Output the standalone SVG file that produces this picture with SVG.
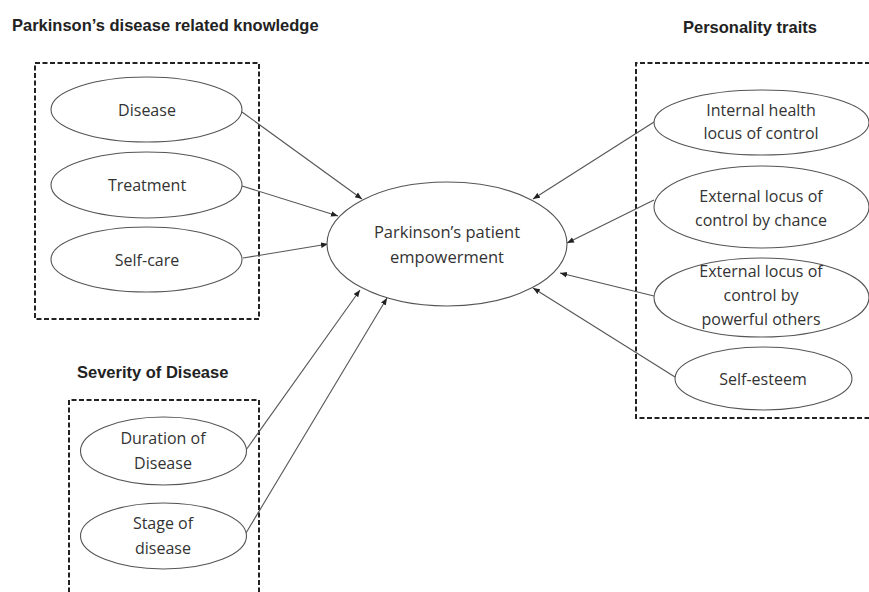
<svg xmlns="http://www.w3.org/2000/svg" width="869" height="592" viewBox="0 0 869 592">
<style>
.title{font-family:"Liberation Sans",Arial,sans-serif;font-weight:bold;font-size:16.5px;fill:#222}
.lbl{font-family:"Open Sans","Liberation Sans",sans-serif;font-size:16px;fill:#333;text-anchor:middle}
.big{font-size:16.5px}
.node ellipse{fill:#fff;stroke:#555;stroke-width:1.1}
.box{fill:none;stroke:#222;stroke-width:2;stroke-dasharray:5 2.5}
.conn line{stroke:#555;stroke-width:1.1;marker-end:url(#ah)}
</style>
<defs>
<marker id="ah" viewBox="0 0 10 10" refX="10" refY="5" markerWidth="7" markerHeight="7" markerUnits="userSpaceOnUse" orient="auto">
<path d="M0,1 L10,5 L0,9 z" fill="#222"/>
</marker>
</defs>
<rect width="869" height="592" fill="#fff"/>
<g id="groups">
<text class="title" x="12" y="31">Parkinson’s disease related knowledge</text>
<rect class="box" x="35" y="63" width="224" height="256"/>
<text class="title" x="683" y="33">Personality traits</text>
<path class="box" d="M870,63 H636 V418 H870"/>
<text class="title" x="77" y="378">Severity of Disease</text>
<path class="box" d="M69,600 V400 H259 V600"/>
</g>
<g class="conn" id="connectors">
<line x1="242" y1="112" x2="362" y2="199"/>
<line x1="242" y1="186" x2="338" y2="216"/>
<line x1="243" y1="258" x2="328" y2="244"/>
<line x1="246" y1="450" x2="360" y2="290"/>
<line x1="246" y1="533" x2="387" y2="298"/>
<line x1="654" y1="122" x2="533" y2="199"/>
<line x1="654" y1="200" x2="567" y2="243"/>
<line x1="654" y1="296" x2="560" y2="273"/>
<line x1="675" y1="377" x2="533" y2="288"/>
</g>
<g class="node" id="n-center"><ellipse cx="447" cy="244" rx="120" ry="62"/><text class="lbl big" x="447" y="237.5">Parkinson’s patient</text><text class="lbl big" x="447" y="262.5">empowerment</text></g>
<g class="node" id="n-disease"><ellipse cx="146.5" cy="109.5" rx="95.5" ry="32.5"/><text class="lbl" x="147" y="115.5">Disease</text></g>
<g class="node" id="n-treatment"><ellipse cx="146.5" cy="185" rx="95.5" ry="33"/><text class="lbl" x="147" y="191">Treatment</text></g>
<g class="node" id="n-selfcare"><ellipse cx="146.5" cy="259.5" rx="95.5" ry="32.5"/><text class="lbl" x="147" y="265.5">Self-care</text></g>
<g class="node" id="n-duration"><ellipse cx="163.5" cy="451" rx="83" ry="34"/><text class="lbl" x="163" y="443.5">Duration of</text><text class="lbl" x="163" y="468.5">Disease</text></g>
<g class="node" id="n-stage"><ellipse cx="163.5" cy="536" rx="83" ry="33"/><text class="lbl" x="163" y="528.5">Stage of</text><text class="lbl" x="163" y="553.5">disease</text></g>
<g class="node" id="n-internal"><ellipse cx="761.5" cy="122.5" rx="107.5" ry="32.5"/><text class="lbl" x="761" y="115.5">Internal health</text><text class="lbl" x="761" y="138.5">locus of control</text></g>
<g class="node" id="n-chance"><ellipse cx="761.5" cy="207" rx="107.5" ry="41"/><text class="lbl" x="761" y="202">External locus of</text><text class="lbl" x="761" y="226">control by chance</text></g>
<g class="node" id="n-powerful"><ellipse cx="761.5" cy="297.5" rx="107.5" ry="39.5"/><text class="lbl" x="761" y="277">External locus of</text><text class="lbl" x="761" y="301">control by</text><text class="lbl" x="761" y="325">powerful others</text></g>
<g class="node" id="n-selfesteem"><ellipse cx="763.5" cy="378.5" rx="88.5" ry="31.5"/><text class="lbl" x="763" y="384.5">Self-esteem</text></g>
</svg>
